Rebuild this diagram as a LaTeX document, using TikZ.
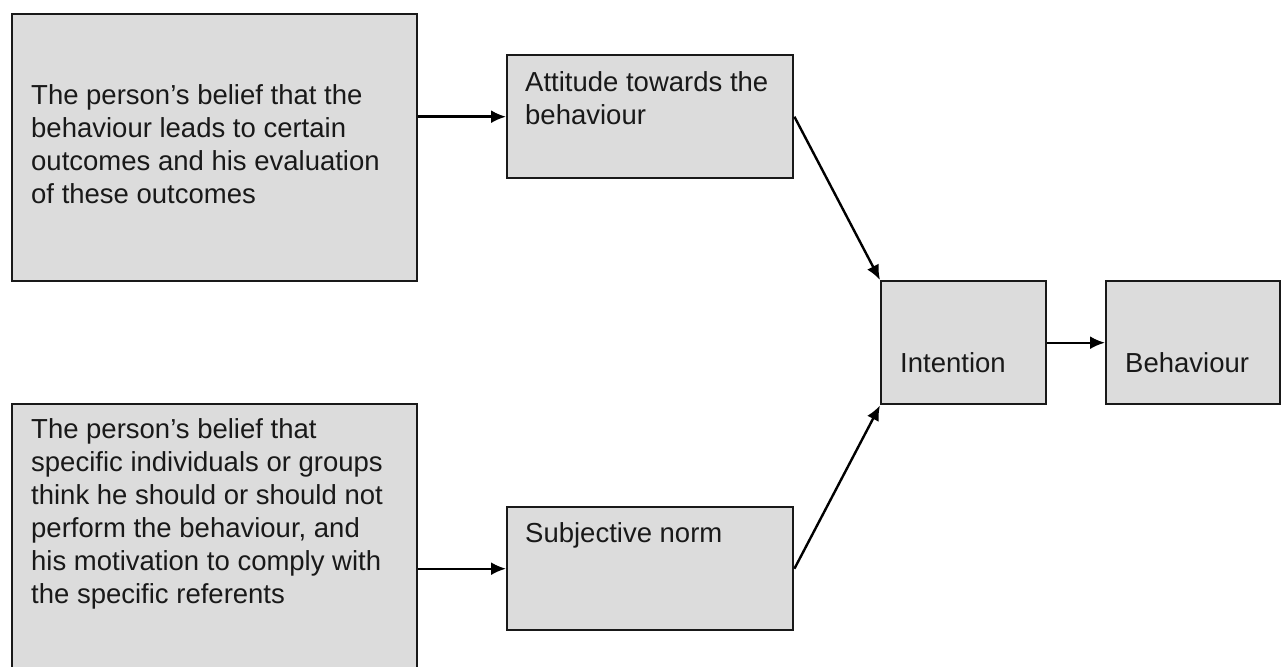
\documentclass[tikz,border=0pt]{standalone}
\usepackage{fontspec}
\setmainfont{Liberation Sans}
\usetikzlibrary{arrows.meta}
\definecolor{boxfill}{RGB}{220,220,220}
\definecolor{boxline}{RGB}{25,25,25}
\definecolor{txt}{RGB}{25,25,25}
\begin{document}
\begin{tikzpicture}[x=1pt,y=-1pt,
  box/.style={draw=boxline,fill=boxfill,line width=2.4pt,rectangle,anchor=north west,inner sep=0pt},
  lbl/.style={anchor=north west,inner sep=0pt,align=left,text=txt,font=\fontsize{27.5}{33}\selectfont},
  arr/.style={draw=black,line width=2.4pt,-{Latex[length=15pt,width=13pt]}}]
\useasboundingbox (0,0) rectangle (1281,666);
% boxes
\node[box,minimum width=405pt,minimum height=267pt] (A) at (11,13) {};
\node[box,minimum width=286pt,minimum height=123pt] (B) at (506,54) {};
\node[box,minimum width=405pt,minimum height=290pt] (C) at (11,403) {};
\node[box,minimum width=286pt,minimum height=123pt] (D) at (506,506) {};
\node[box,minimum width=165pt,minimum height=123pt] (I) at (880,280) {};
\node[box,minimum width=174pt,minimum height=123pt] (E) at (1105,280) {};
% texts
\node[lbl] (At) at (31,84) {The person’s belief that the\\behaviour leads to certain\\outcomes and his evaluation\\of these outcomes};
\node[lbl] (Bt) at (525,71) {Attitude towards the\\behaviour};
\node[lbl] (Ct) at (31,418) {The person’s belief that\\specific individuals or groups\\think he should or should not\\perform the behaviour, and\\his motivation to comply with\\the specific referents};
\node[lbl] (Dt) at (525,522) {Subjective norm};
\node[lbl] (It) at (900,352) {Intention};
\node[lbl] (Et) at (1125,352) {Behaviour};
% connectors
\draw[arr] (A.east |- B.west) -- (B.west);
\draw[arr] (C.east |- D.west) -- (D.west);
\draw[arr] (B.east) -- (I.north west);
\draw[arr] (D.east) -- (I.south west);
\draw[arr] (I.east) -- (E.west);
\end{tikzpicture}
\end{document}
